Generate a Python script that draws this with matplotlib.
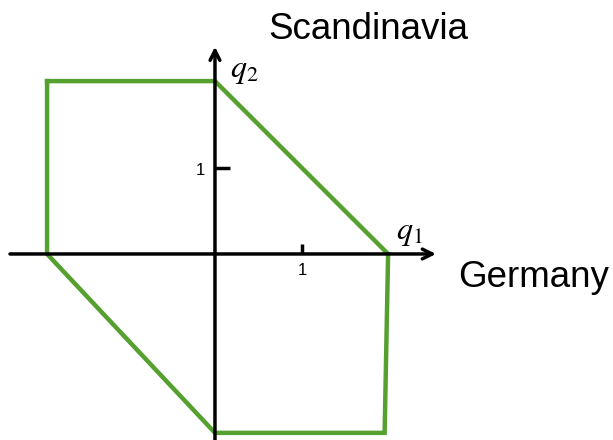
import matplotlib
matplotlib.use("Agg")
import matplotlib.pyplot as plt

# Data (in axis units)
region_x = [-1.93, 0.0, 1.99, 1.95, 0.0, -1.93, -1.93]
region_y = [2.01, 2.01, 0.0, -2.08, -2.08, 0.0, 2.01]
tick_x = [1]
tick_y = [1]
tick_labels_x = ["1"]
tick_labels_y = ["1"]

plt.rcParams['mathtext.fontset'] = 'stix'
plt.rcParams['font.family'] = ['Liberation Sans', 'DejaVu Sans']

fig = plt.figure(figsize=(6.13, 4.40), dpi=100)
ax = fig.add_axes([0, 0, 1, 1])
ax.set_xlim(-2.471, 4.575)
ax.set_ylim(-2.163, 2.953)
ax.axis('off')

# axes with arrows
arrow_kw = dict(arrowstyle='->,head_length=0.7,head_width=0.35', color='black', lw=2.5,
                shrinkA=0, shrinkB=0)
ax.annotate('', xy=(2.54, 0), xytext=(-2.356, 0), arrowprops=arrow_kw)
ax.annotate('', xy=(0, 2.41), xytext=(0, -2.163), arrowprops=arrow_kw)

# ticks
for t, lab in zip(tick_x, tick_labels_x):
    ax.plot([t, t], [0, 0.12], color='black', lw=2.5, solid_capstyle='butt')
    ax.text(t, -0.11, lab, ha='center', va='top', fontsize=12)
for t, lab in zip(tick_y, tick_labels_y):
    ax.plot([0, 0.17], [t, t], color='black', lw=2.5, solid_capstyle='butt')
    ax.text(-0.11, t - 0.03, lab, ha='right', va='center', fontsize=12)

# region
ax.plot(region_x, region_y, color='#55a02f', lw=3.2, solid_joinstyle='miter')

# labels
ax.text(2.08, 0.07, r'$q_1$', fontsize=23, ha='left', va='bottom')
ax.text(0.17, 1.95, r'$q_2$', fontsize=23, ha='left', va='bottom')
ax.text(1.76, 2.50, 'Scandinavia', fontsize=26.5, ha='center', va='baseline')
ax.text(2.79, -0.384, 'Germany', fontsize=26.5, ha='left', va='baseline')

fig.savefig('out.png', dpi=100)
